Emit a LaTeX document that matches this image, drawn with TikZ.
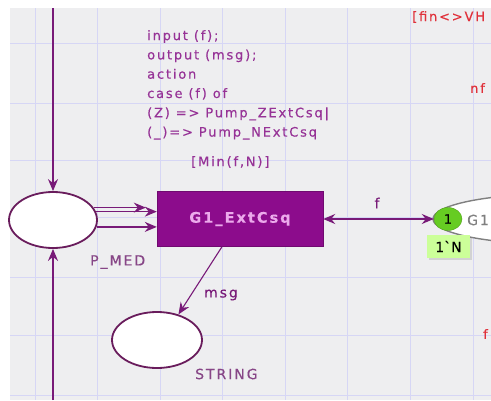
\documentclass[tikz,border=0pt]{standalone}
\usepackage{fontspec}
\usepackage{tikz}
\usetikzlibrary{shapes,arrows.meta,shadows,positioning}
\newfontfamily\cpnfont[LetterSpace=14,FakeBold=0.4]{DejaVu Sans}
\definecolor{bggrey}{RGB}{238,238,240}
\definecolor{gridline}{RGB}{214,214,245}
\definecolor{placeline}{RGB}{105,28,92}
\definecolor{arcpurple}{RGB}{120,26,120}
\definecolor{transfill}{RGB}{140,12,140}
\definecolor{transtext}{RGB}{236,170,236}
\definecolor{inscr}{RGB}{150,50,150}
\definecolor{labelc}{RGB}{135,70,135}
\definecolor{cpnred}{RGB}{224,48,58}
\definecolor{tokengreen}{RGB}{102,204,34}
\definecolor{boxgreen}{RGB}{204,255,153}

\begin{document}
\begin{tikzpicture}[x=1pt,y=-1pt]

  \tikzset{place/.style={draw=placeline, line width=1.8pt, fill=white, ellipse, inner sep=0pt},
    trans/.style={draw=transfill!80!black, fill=transfill, rectangle, minimum width=166pt, minimum height=55pt,
      text=transtext, font={\cpnfont\bfseries\fontsize{14.5}{16}\selectfont}},
    arc/.style={draw=arcpurple, line width=1.6pt, -{Stealth[length=12pt,width=10pt,inset=4pt]}},
    lbl/.style={text=labelc, inner sep=0pt, font={\cpnfont\fontsize{14}{16}\selectfont}},
    redlbl/.style={text=cpnred, inner sep=0pt, font={\cpnfont\fontsize{13}{15}\selectfont}},
    token/.style={ellipse, fill=tokengreen, draw=tokengreen!80!black, minimum width=28pt, minimum height=23pt,
      inner sep=0pt, font={\cpnfont\fontsize{13}{15}\selectfont}},
    marking/.style={rectangle, fill=boxgreen, minimum width=43pt, minimum height=23pt, inner sep=0pt,
      drop shadow={opacity=0.25, shadow xshift=1.5pt, shadow yshift=-1.5pt},
      font={\cpnfont\fontsize{14}{16}\selectfont}}}

\useasboundingbox (0,0) rectangle (491,400);
\clip (0,0) rectangle (491,400);
\fill[bggrey] (10,8) rectangle (491,400);
\foreach \gx in {35,97,160,222,285,347,410,473}
  \draw[gridline, line width=1pt] (\gx,8) -- (\gx,400);
\foreach \gy in {43,103,160,217,277,335,395}
  \draw[gridline, line width=1pt] (10,\gy) -- (491,\gy);

\node[place, minimum width=88pt, minimum height=56pt] (pmed) at (53,220) {};
\node[place, minimum width=90pt, minimum height=56pt] (strg) at (157,340) {};
\node[place, draw=gray, line width=1.4pt, minimum width=240pt, minimum height=50pt] (gone) at (553,219) {};
\node[trans] (g1ext) at (240,219) {G1\_ExtCsq};
\node[token] (tok) at (448,219) {1};
\node[marking] (mark) at (448.5,246.5) {1\textasciigrave N};
\node[lbl, text=gray, anchor=west] (gonelbl) at (467,220) {G1};

\node[lbl, anchor=west] (pmedlbl) at (90,262) {P\_MED};
\node[lbl, anchor=west] (strglbl) at (195,374) {STRING};
\node[lbl, text=arcpurple] (flbl) at (377,203) {f};
\node[lbl, text=arcpurple] (msglbl) at (221,295) {msg};

\node[text=inscr, inner sep=0pt, anchor=north west, align=left,
  font={\cpnfont\fontsize{13}{19.3}\selectfont}] (code) at (147,30)
  {input (f);\\output (msg);\\action\\case (f) of\\(Z) => Pump\_ZExtCsq|\\(\_)=> Pump\_NExtCsq};
\node[text=inscr, inner sep=0pt, anchor=west, font={\cpnfont\fontsize{13}{15}\selectfont}] (guard) at (191,162) {[Min(f,N)]};

\node[redlbl, anchor=west] (redtop) at (412,17) {[fin<>VH};
\node[redlbl, anchor=west] (rednf) at (470,88) {nf};
\node[redlbl, anchor=west] (redf) at (483,334) {f};

\coordinate (pmedin) at (53,8);
\coordinate (pmedout) at (53,400);
\draw[arc] (pmedin) -- (pmed);
\draw[arc] (pmedout) -- (pmed);

\draw[arc, line width=1.2pt, shorten >=11pt] (pmed.17) -- (pmed.17 -| g1ext.west);
\draw[arc, line width=1.2pt] (pmed.11) -- (pmed.11 -| g1ext.west);
\draw[arc] (pmed.-9) -- (pmed.-9 -| g1ext.west);

\draw[arc, {Stealth[length=12pt,width=10pt,inset=4pt]}-{Stealth[length=12pt,width=10pt,inset=4pt]}] (g1ext.east) -- (tok.west);
\draw[arc, line width=1.1pt] ([xshift=-18pt]g1ext.south) -- (strg.50);

\end{tikzpicture}
\end{document}
